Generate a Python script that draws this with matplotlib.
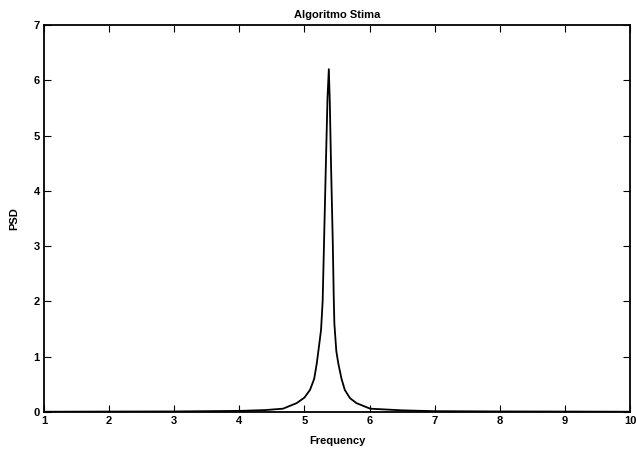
import matplotlib
matplotlib.use("Agg")
import matplotlib.pyplot as plt

# values
freq = [1.0, 2.0, 3.0, 4.0, 4.4, 4.67, 4.88, 5.0, 5.086, 5.15, 5.19, 5.225,
        5.255, 5.28, 5.30, 5.33, 5.355, 5.375, 5.39, 5.41, 5.435, 5.45, 5.46,
        5.49, 5.52, 5.57, 5.62, 5.70, 5.80, 6.01, 6.5, 7.0, 8.0, 9.0, 10.0]
psd = [0.005, 0.008, 0.01, 0.02, 0.035, 0.06, 0.16, 0.26, 0.40, 0.6, 0.88, 1.2,
       1.48, 2.0, 3.0, 4.5, 5.7, 6.2, 5.6, 4.4, 3.1, 2.1, 1.6,
       1.1, 0.88, 0.6, 0.40, 0.25, 0.16, 0.06, 0.03, 0.015, 0.01, 0.008, 0.005]
xticks = [1, 2, 3, 4, 5, 6, 7, 8, 9, 10]
yticks = [0, 1, 2, 3, 4, 5, 6, 7]

plt.rcParams['font.family'] = 'Liberation Sans'
plt.rcParams['font.weight'] = 'bold'
plt.rcParams['font.size'] = 8

fig = plt.figure(figsize=(6.37, 4.53), dpi=100)
ax = fig.add_axes([0.069, 0.0905, 0.92, 0.8545])
ax.plot(freq, psd, color='black', lw=1.3)

ax.set_xlim(1, 10)
ax.set_ylim(0, 7)
ax.set_xticks(xticks)
ax.set_yticks(yticks)
ax.tick_params(direction='in', length=5, width=0.8, top=True, right=True, pad=3)
for s in ax.spines.values():
    s.set_linewidth(1.3)

ax.set_title('Algoritmo Stima', fontsize=8, fontweight='bold', pad=5)
ax.set_xlabel('Frequency', fontsize=8, fontweight='bold', labelpad=7)
ax.set_ylabel('PSD', fontsize=8, fontweight='bold', labelpad=10)

fig.savefig('out.png', dpi=100)
